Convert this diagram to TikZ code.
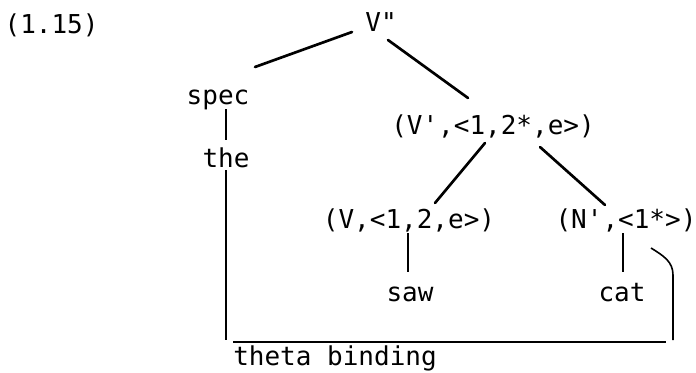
\documentclass[tikz,border=0pt]{standalone}
\usepackage{fontspec}
\setmonofont{DejaVu Sans Mono}
\usepackage{tikz}
\usetikzlibrary{positioning, calc}

\begin{document}
\begin{tikzpicture}[
  x=0.75pt, y=-0.75pt,
  font=\ttfamily\fontsize{19.5}{23}\selectfont,
  cat/.style={inner sep=1pt, text height=14pt, text depth=0pt},
  branch/.style={line width=2pt, line cap=round},
  stem/.style={line width=1.4pt},
  bind/.style={line width=1.2pt}
]
  \useasboundingbox (0,0) rectangle (696,372);

  \node[cat, anchor=west] (exno) at (3,24) {(1.15)};

  \node[cat] (vdp) at (381,22) {V"};
  \node[cat] (spec) at (218,95) {spec};
  \node[cat] (the) at (226,158) {the};
  \node[cat] (vp) at (493,125) {(V',<1,2*,e>)};
  \node[cat] (v) at (409,219) {(V,<1,2,e>)};
  \node[cat] (npr) at (626,219) {(N',<1*>)};
  \node[cat] (saw) at (410,292) {saw};
  \node[cat] (cat) at (622,292) {cat};

  \draw[branch] ($(vdp)+(-29,10)$) -- ($(spec)+(37,-28)$);
  \draw[branch] ($(vdp)+(7,18)$) -- ($(vp)+(-25,-27)$);
  \draw[branch] ($(vp)+(-8,18)$) -- ($(v)+(26,-16)$);
  \draw[branch] ($(vp)+(47,22)$) -- ($(npr)+(-21,-14)$);
  \draw[stem] ($(spec)+(8,14)$) -- ($(the)+(0,-18)$);
  \draw[stem] ($(v)+(-1,14)$) -- ($(saw)+(-2,-20)$);
  \draw[stem] ($(npr)+(-3,14)$) -- ($(cat)+(1,-20)$);

  % theta binding bracket
  \coordinate (bl) at (226,340);
  \coordinate (br) at (673,340);
  \coordinate (hl) at (233,342);
  \coordinate (hr) at (666,342);
  \draw[bind] ($(the)+(0,12)$) -- (bl);
  \draw[bind] ($(npr)+(25,29)$) .. controls (664,256) and (673,262) .. (673,275) -- (br);
  \draw[bind] (hl) -- (hr);
  \node[cat, anchor=west, inner sep=0pt] (tb) at (233,356) {theta binding};
\end{tikzpicture}
\end{document}
